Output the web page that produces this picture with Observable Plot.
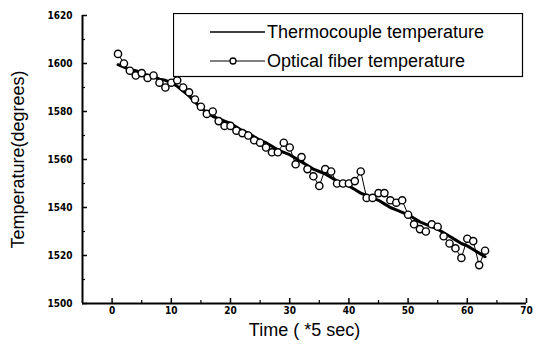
<!DOCTYPE html>
<html><head><meta charset="utf-8">
<script src="https://cdn.jsdelivr.net/npm/d3@7"></script>
<script src="https://cdn.jsdelivr.net/npm/@observablehq/plot@0.6"></script>
<style>
body{margin:0;background:#fff;}
#wrap{position:relative;width:535px;height:349px;}
#legend{position:absolute;left:173px;top:13px;}
</style></head><body>
<div id="wrap"><div id="chart"></div><div id="legend"></div></div>
<script>
const time = [1,2,3,4,5,6,7,8,9,10,11,12,13,14,15,16,17,18,19,20,21,22,23,24,25,26,27,28,29,30,31,32,33,34,35,36,37,38,39,40,41,42,43,44,45,46,47,48,49,50,51,52,53,54,55,56,57,58,59,60,61,62,63];
const thermocouple = [1599.5,1598.5,1597.5,1597,1596,1595,1594.5,1593.5,1593,1592,1590.5,1588.5,1586.5,1584,1581.5,1579.5,1578,1577,1576,1575,1573.5,1572,1571,1569.5,1568,1567,1565.5,1564,1563,1562,1560.5,1559,1557.5,1556,1555,1554,1552.5,1551,1550,1549,1547.5,1546,1545,1544,1543,1541.5,1540,1539,1538,1537,1535.5,1534,1533,1532,1531,1529.5,1528,1526.5,1525,1524,1522.5,1521,1519.5];
const optical = [1604,1600,1597,1595,1596,1594,1595,1592,1590,1592,1593,1590,1588,1585,1582,1579,1580,1576,1574,1574,1572,1571,1570,1568,1567,1565,1563,1563,1567,1565,1558,1561,1556,1553,1549,1556,1555,1550,1550,1550,1551,1555,1544,1544,1546,1546,1543,1542,1543,1537,1533,1531,1530,1533,1532,1528,1525,1523,1519,1527,1526,1516,1522];
const xTicks = [0,10,20,30,40,50,60,70];
const xMinor = [5,15,25,35,45,55,65];
const yTicks = [1500,1520,1540,1560,1580,1600,1620];
const yMinor = [1510,1530,1550,1570,1590,1610];
const xLabel = "Time ( *5 sec)";
const yLabel = "Temperature(degrees)";
const seriesNames = ["Thermocouple temperature","Optical fiber temperature"];

const tickFont = {fontSize: 10, fontWeight: "bold", fontFamily: "'Liberation Sans Narrow','DejaVu Sans Condensed',sans-serif"};

const chart = Plot.plot({
  width: 535, height: 349,
  marginLeft: 82, marginRight: 9, marginTop: 15, marginBottom: 46,
  x: {domain: [-5, 70]},
  y: {domain: [1500, 1620]},
  style: {background: "white", color: "black", fontFamily: "'Liberation Sans',Arial,sans-serif"},
  marks: [
    Plot.axisY({ticks: yTicks, tickSize: -5, tickPadding: 15, strokeWidth: 1.5, label: null, tickFormat: d => String(d), ...tickFont}),
    Plot.axisY({ticks: yMinor, tickSize: -3, strokeWidth: 1.2, text: null, label: null}),
    Plot.axisX({ticks: xTicks, tickSize: -5, tickPadding: 8, strokeWidth: 1.5, label: null, tickFormat: d => String(d), ...tickFont}),
    Plot.axisX({ticks: xMinor, tickSize: -3, strokeWidth: 1.2, text: null, label: null}),
    Plot.ruleX([-5], {strokeWidth: 2}),
    Plot.ruleY([1500], {strokeWidth: 2}),
    Plot.line(time, {x: time, y: thermocouple, stroke: "black", strokeWidth: 3}),
    Plot.line(time, {x: time, y: optical, stroke: "black", strokeWidth: 1}),
    Plot.dot(time, {x: time, y: optical, r: 3.6, fill: "white", stroke: "black", strokeWidth: 1.4}),
    Plot.text([xLabel], {frameAnchor: "bottom", dy: 32, text: d => d, fontSize: 18}),
    Plot.text([yLabel], {frameAnchor: "left", textAnchor: "middle", dx: -64, rotate: -90, text: d => d, fontSize: 18})
  ]
});
document.getElementById("chart").appendChild(chart);

// legend
const lg = d3.select("#legend").append("svg").attr("width", 351).attr("height", 65)
  .style("font-family", "'Liberation Sans',Arial,sans-serif");
lg.append("rect").attr("x", 0.5).attr("y", 0.5).attr("width", 349).attr("height", 63)
  .attr("fill", "white").attr("stroke", "black").attr("stroke-width", 1.2);
lg.append("line").attr("x1", 37).attr("x2", 92).attr("y1", 19).attr("y2", 19).attr("stroke", "black").attr("stroke-width", 1.6);
lg.append("line").attr("x1", 37).attr("x2", 92).attr("y1", 48).attr("y2", 48).attr("stroke", "black").attr("stroke-width", 1);
lg.append("circle").attr("cx", 60).attr("cy", 48).attr("r", 3).attr("fill", "white").attr("stroke", "black").attr("stroke-width", 1.3);
lg.selectAll("text.l").data(seriesNames).join("text").attr("class", "l")
  .attr("x", 94).attr("y", (d, i) => 19 + i * 29).attr("dy", "0.35em")
  .attr("font-size", 18).text(d => d);
</script>
</body></html>
